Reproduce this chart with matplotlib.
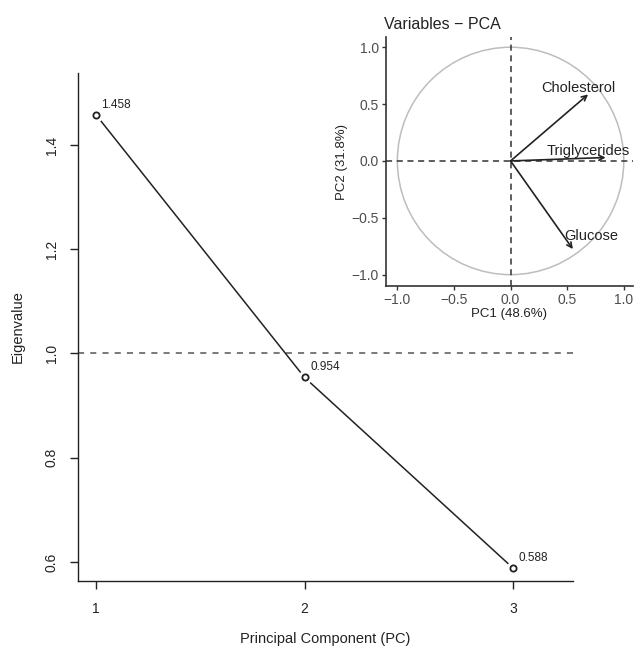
import numpy as np
import matplotlib
matplotlib.use('Agg')
import matplotlib.pyplot as plt
from matplotlib.patches import Circle

plt.rcParams['font.family'] = ['Liberation Sans', 'DejaVu Sans']

# scree data
pcs = [1, 2, 3]
eigenvalues = [1.458, 0.954, 0.588]
eig_labels = ['1.458', '0.954', '0.588']

# variable loadings on PC1 / PC2
var_names = ['Cholesterol', 'Triglycerides', 'Glucose']
pc1_coord = [0.685, 0.84, 0.55]
pc2_coord = [0.585, 0.03, -0.775]
label_pos = [(0.60, 0.64), (0.69, 0.09), (0.71, -0.66)]
pc1_label = 'PC1 (48.6%)'
pc2_label = 'PC2 (31.8%)'


fig = plt.figure(figsize=(6.36, 6.49), dpi=100)

# ---- main scree plot ----
ax = fig.add_axes([0.1226, 0.1048, 0.901 - 0.1226, 0.8875 - 0.1048])
ax.set_xlim(0.914, 3.287)
ax.set_ylim(0.5635, 1.538)
ax.plot(pcs, eigenvalues, color='#222222', lw=1.1, zorder=2)
ax.plot(pcs, eigenvalues, 'o', ms=10, mfc='white', mec='none', zorder=3)
ax.plot(pcs, eigenvalues, 'o', ms=4.5, mfc='white', mec='#222222', mew=1.3, zorder=4)
for x, y, t in zip(pcs, eigenvalues, eig_labels):
    ax.annotate(t, (x, y), xytext=(4, 3), textcoords='offset points',
                fontsize=8.5, color='#222222', ha='left', va='bottom')
ax.axhline(1.0, color='#555555', lw=1.1, ls=(0, (4, 4)), zorder=1)

for s in ['top', 'right']:
    ax.spines[s].set_visible(False)
for s in ['left', 'bottom']:
    ax.spines[s].set_linewidth(1.0)
    ax.spines[s].set_color('#222222')
ax.set_xticks(pcs)
ax.set_yticks([0.6, 0.8, 1.0, 1.2, 1.4])
ax.set_yticklabels(['0.6', '0.8', '1.0', '1.2', '1.4'], rotation=90, va='center')
ax.tick_params(axis='both', length=6, width=1.0, color='#222222',
               labelsize=10, labelcolor='#222222')
ax.tick_params(axis='x', pad=9)
ax.tick_params(axis='y', pad=8)
ax.set_xlabel('Principal Component (PC)', fontsize=10.5, color='#222222', labelpad=12)
ax.set_ylabel('Eigenvalue', fontsize=10.5, color='#222222', labelpad=14)

# ---- inset: variables PCA ----
ins = fig.add_axes([0.607, 0.5593, 0.995 - 0.607, 0.943 - 0.5593])
ins.set_facecolor('white')
ins.set_xlim(-1.10, 1.08)
ins.set_ylim(-1.10, 1.09)
ins.add_patch(Circle((0, 0), 1.0, fill=False, ec='#bdbdbd', lw=1.1))
ins.axhline(0, color='#333333', lw=1.1, ls=(0, (4, 3)))
ins.axvline(0, color='#333333', lw=1.1, ls=(0, (4, 3)))
for x, y in zip(pc1_coord, pc2_coord):
    ins.annotate('', xy=(x, y), xytext=(0, 0),
                 arrowprops=dict(arrowstyle='->', color='#222222', lw=1.2,
                                 shrinkA=0, shrinkB=0, mutation_scale=9))
for name, (lx, ly) in zip(var_names, label_pos):
    ins.text(lx, ly, name, fontsize=10.5, color='#222222', ha='center', va='center')

for s in ['top', 'right']:
    ins.spines[s].set_visible(False)
for s in ['left', 'bottom']:
    ins.spines[s].set_linewidth(1.2)
    ins.spines[s].set_color('#333333')
ticks = [-1.0, -0.5, 0.0, 0.5, 1.0]
ins.set_xticks(ticks)
ins.set_yticks(ticks)
ins.set_xticklabels(['\u22121.0', '\u22120.5', '0.0', '0.5', '1.0'])
ins.set_yticklabels(['\u22121.0', '\u22120.5', '0.0', '0.5', '1.0'])
ins.tick_params(axis='both', length=3, width=1.0, color='#333333',
                labelsize=10, labelcolor='#4d4d4d', pad=2)
ins.set_xlabel(pc1_label, fontsize=9.5, color='#222222', labelpad=1)
ins.set_ylabel(pc2_label, fontsize=9.5, color='#222222', labelpad=3)
ins.set_title('Variables \u2212 PCA', fontsize=11.5, color='#222222', loc='left',
              x=-0.01, pad=6)

fig.savefig('out.png', dpi=100)
